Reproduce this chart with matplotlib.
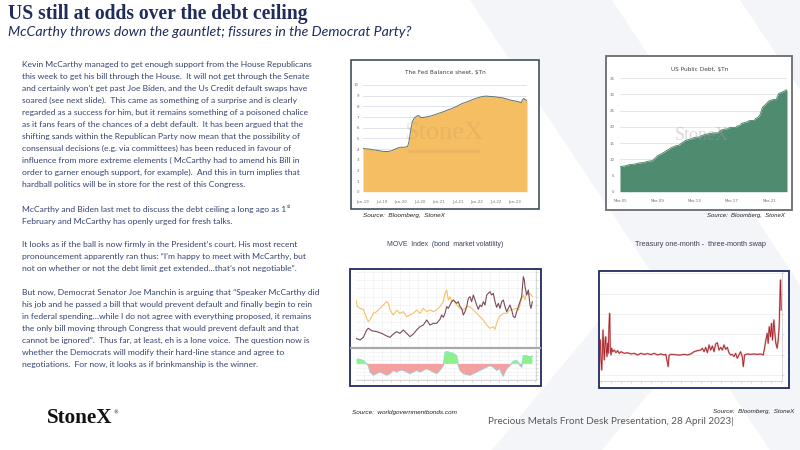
import matplotlib
matplotlib.use('Agg')
import matplotlib.pyplot as plt
from matplotlib.patches import Rectangle, Polygon
from matplotlib.ticker import MultipleLocator

# ---------------- data ----------------
fed_months = [0, 1, 2, 3, 4, 5, 6, 7, 8, 9, 10, 11, 12, 13, 14.1, 14.5, 14.8, 15.2, 15.6, 16.2, 17, 17.6,
              18.2, 19, 20, 21, 22, 23, 24, 25, 26, 27, 28, 29, 30, 31, 32, 33, 34, 35, 36, 37, 38, 39,
              40, 41, 42, 43, 44, 45, 46, 47, 48, 49, 50, 50.4, 50.8, 51.2, 51.8]
fed_values = [4.06, 4.02, 4.00, 3.93, 3.90, 3.85, 3.79, 3.77, 3.76, 3.84, 3.97, 4.10, 4.17, 4.16, 4.24,
              4.66, 5.25, 6.00, 6.57, 6.90, 7.09, 7.14, 6.96, 6.95, 7.01, 7.07, 7.15, 7.25, 7.36, 7.45,
              7.56, 7.69, 7.78, 7.91, 8.06, 8.22, 8.33, 8.44, 8.56, 8.68, 8.78, 8.87, 8.93, 8.96, 8.93,
              8.91, 8.88, 8.83, 8.80, 8.73, 8.64, 8.55, 8.51, 8.44, 8.34, 8.63, 8.73, 8.63, 8.56]
fed_tick_pos = [0, 6, 12, 18, 24, 30, 36, 42, 48]
fed_tick_labels = ["Jan-19", "Jul-19", "Jan-20", "Jul-20", "Jan-21", "Jul-21", "Jan-22", "Jul-22", "Jan-23"]

debt_years = [0, 0.5, 1.0, 1.5, 2.0, 2.5, 3.0, 3.5, 3.6, 3.9, 4.0, 4.5, 5.0, 5.5, 6.0, 6.3, 6.5, 7.0, 7.5,
              8.0, 8.5, 8.6, 9.0, 9.5, 10.0, 10.5, 10.7, 11.0, 11.5, 11.8, 12.0, 12.4, 12.5, 12.9, 13.0,
              13.5, 13.9, 14.0, 14.4, 14.5, 14.8, 15.0, 15.15, 15.25, 15.5, 15.75, 16.0, 16.4, 16.75,
              16.8, 16.9, 17.0, 17.5, 17.8, 17.9]
debt_values = [7.78, 7.93, 8.35, 8.5, 8.85, 9.0, 9.4, 9.6, 10.0, 10.7, 11.1, 11.8, 12.7, 13.6, 14.2, 14.3,
               14.8, 15.8, 16.2, 16.77, 16.9, 17.1, 17.6, 17.9, 18.15, 18.15, 18.8, 19.2, 19.4, 19.85,
               19.85, 19.85, 20.2, 20.5, 21.1, 21.4, 21.98, 22.0, 22.0, 22.5, 23.0, 23.7, 25.0, 26.0,
               26.7, 27.4, 28.1, 28.43, 28.43, 28.9, 29.6, 30.3, 30.9, 31.38, 31.46]
debt_tick_pos = [0, 4, 8, 12, 16]
debt_tick_labels = ["Mar-05", "Mar-09", "Mar-13", "Mar-17", "Mar-21"]

move_t = [138, 150, 160, 170, 175, 185, 200, 215, 230, 240, 250, 260, 270, 280, 290, 300, 310, 320, 330,
          340, 350, 360, 370, 380, 390, 395, 400, 405, 410, 415, 420, 425, 430, 440, 445, 450, 455, 460,
          465, 470, 475, 480, 485, 490, 495, 500, 505, 510, 515, 520, 525, 530, 535, 540, 545, 550, 555,
          560, 565, 570, 575, 580, 585, 590, 595, 600, 605, 610, 615, 620, 625, 630, 635, 640, 643, 645,
          650, 655, 660, 663, 667]
move_values = [75, 70, 78, 100, 105, 98, 95, 90, 82, 78, 88, 95, 90, 100, 90, 80, 88, 100, 110, 115, 130,
               115, 120, 120, 132, 145, 138, 150, 170, 165, 175, 185, 190, 180, 185, 170, 165, 145, 155,
               170, 195, 200, 185, 205, 190, 175, 162, 175, 170, 185, 175, 205, 210, 215, 205, 210, 185,
               168, 180, 165, 185, 190, 170, 155, 165, 175, 160, 140, 137, 155, 170, 185, 200, 260, 250,
               230, 205, 220, 175, 165, 185]
other_t = [138, 142, 150, 160, 170, 175, 180, 190, 200, 210, 220, 230, 235, 240, 250, 260, 270, 280, 290,
           300, 310, 320, 330, 340, 350, 360, 370, 380, 390, 400, 405, 410, 415, 420, 425, 430, 440, 450,
           460, 470, 480, 490, 500, 510, 520, 530, 540, 550, 555, 560, 565, 570, 580, 590, 600, 610, 620,
           625, 630, 635, 640, 645, 650, 655, 660, 667]
other_values = [190, 170, 165, 162, 135, 125, 130, 150, 155, 165, 175, 185, 180, 160, 145, 160, 150, 155,
                140, 145, 150, 160, 150, 165, 155, 160, 155, 160, 170, 185, 210, 220, 190, 200, 185, 190,
                175, 165, 160, 170, 170, 160, 150, 140, 130, 115, 105, 110, 102, 120, 135, 142, 150, 150,
                160, 162, 165, 160, 175, 195, 205, 190, 215, 205, 210, 200]
spread_t = [140, 145, 160, 170, 175, 180, 190, 200, 210, 220, 230, 240, 250, 260, 270, 280, 290, 300, 310,
            320, 330, 340, 350, 360, 370, 380, 390, 400, 405, 410, 420, 430, 440, 445, 450, 460, 470, 480,
            490, 500, 510, 520, 530, 540, 550, 560, 570, 575, 580, 585, 590, 600, 605, 610, 620, 625, 630,
            635, 640, 650, 660, 667]
spread_values = [12, 15, 10, 0, -5, -25, -35, -30, -25, -30, -35, -30, -20, -25, -20, -20, -25, -30, -25,
                 -20, -25, -20, -15, -20, -25, -30, -20, -5, 35, 38, 35, 32, 25, -5, -20, -30, -33, -35,
                 -30, -25, -20, -15, -10, -5, -10, -20, -15, -30, -38, -25, -15, -5, 2, 8, 10, 5, -5, -10,
                 25, 25, 22, 24]

swap_t = [58, 60, 62, 64, 66, 68, 70, 72, 74, 76, 78, 80, 82, 84, 86, 88, 90, 92, 95, 100, 105, 110, 115,
          120, 130, 140, 150, 160, 170, 180, 190, 200, 210, 220, 230, 240, 250, 255, 262, 265, 270, 280,
          290, 300, 310, 320, 330, 340, 350, 360, 365, 370, 375, 380, 385, 390, 395, 400, 405, 410, 415,
          420, 425, 430, 435, 440, 445, 450, 455, 460, 465, 470, 475, 480, 485, 488, 492, 500, 510, 520,
          530, 540, 548, 552, 556, 560, 563, 566, 570, 573, 576, 580, 583, 586, 590, 593, 596, 598, 600, 602]
swap_values = [7.3, -2.4, -7.3, 0.8, 12.2, 4.1, -2.4, 5.7, 8.9, 2.4, -0.8, 5.7, 0.8, 13.8, 20.3, 2.4, 0.0,
               3.3, 1.6, 2.4, 1.1, 2.1, 0.8, 1.6, 0.8, 1.1, 0.5, 0.8, 0.0, 0.8, 0.3, 0.7, 0.2, 0.8, 0.0,
               0.5, 0.0, 0.3, -5.7, 0.0, 0.3, 0.2, 0.0, 0.0, 0.3, 0.0, 0.5, 1.6, 2.1, 2.4, 3.3, 1.6, 3.7,
               1.1, 4.9, 2.4, 4.4, 1.6, 5.4, 6.0, 2.4, 3.7, 2.4, 4.9, 2.8, 3.7, 1.1, 0.0, 0.3, -0.8, 0.8,
               -1.6, 0.0, 1.6, -0.8, -5.7, 0.0, 0.5, 0.3, 0.5, 0.3, 0.5, 0.0, 3.3, 7.3, 10.6, 5.7, 13.8,
               8.9, 15.4, 7.3, 17.1, 10.6, 5.7, 3.3, 7.3, 13.8, 26.8, 36.6, 22.0]

title = "US still at odds over the debt ceiling"
subtitle = "McCarthy throws down the gauntlet; fissures in the Democrat Party?"
paragraphs = [
    ["Kevin McCarthy managed to get enough support from the House Republicans",
     "this week to get his bill through the House.  It will not get through the Senate",
     "and certainly won\u2019t get past Joe Biden, and the Us Credit default swaps have",
     "soared (see next slide).  This came as something of a surprise and is clearly",
     "regarded as a success for him, but it remains something of a poisoned chalice",
     "as it fans fears of the chances of a debt default.  It has been argued that the",
     "shifting sands within the Republican Party now mean that the possibility of",
     "consensual decisions (e.g. via committees) has been reduced in favour of",
     "influence from more extreme elements ( McCarthy had to amend his Bill in",
     "order to garner enough support, for example).  And this in turn implies that",
     "hardball politics will be in store for the rest of this Congress."],
    ["McCarthy and Biden last met to discuss the debt ceiling a long ago as 1",
     "February and McCarthy has openly urged for fresh talks."],
    ["It looks as if the ball is now firmly in the President\u2019s court. His most recent",
     "pronouncement apparently ran thus: \u201cI\u2019m happy to meet with McCarthy, but",
     "not on whether or not the debt limit get extended\u2026that\u2019s not negotiable\u201d."],
    ["But now, Democrat Senator Joe Manchin is arguing that \u201cSpeaker McCarthy did",
     "his job and he passed a bill that would prevent default and finally begin to rein",
     "in federal spending\u2026while I do not agree with everything proposed, it remains",
     "the only bill moving through Congress that would prevent default and that",
     "cannot be ignored\u201d.  Thus far, at least, eh is a lone voice.  The question now is",
     "whether the Democrats will modify their hard-line stance and agree to",
     "negotiations.  For now, it looks as if brinkmanship is the winner."],
]

# ---------------- figure ----------------
W, H = 800, 450
fig = plt.figure(figsize=(8, 4.5), dpi=100)
fig.patch.set_facecolor('white')
renderer = fig.canvas.get_renderer()

NAVY = '#1F2C5C'
BODY = '#34426F'
NARROW = ['Liberation Sans Narrow', 'DejaVu Sans']


def fx(x):
    return x / W


def fy(y):
    return 1 - y / H


def ax_px(x0, y0, x1, y1):
    return fig.add_axes([fx(x0), fy(y1), (x1 - x0) / W, (y1 - y0) / H])


def ftext(x, y, s, width=None, size=8, **kw):
    kw.setdefault('ha', 'left')
    kw.setdefault('va', 'center')
    t = fig.text(fx(x), fy(y), s, fontsize=size, **kw)
    if width:
        bb = t.get_window_extent(renderer)
        t.set_fontsize(size * width / bb.width)
    return t


def frame(x0, y0, x1, y1, color, lw):
    fig.patches.append(Rectangle((fx(x0), fy(y1)), (x1 - x0) / W, (y1 - y0) / H,
                                 transform=fig.transFigure, facecolor='white',
                                 edgecolor=color, lw=lw, zorder=-1))


# background watermark strokes
for pts in [[(470, 0), (612, 0), (800, 285), (800, 450), (770, 450)],
            [(492, 450), (602, 450), (735, 290), (625, 290)],
            [(740, 0), (800, 0), (800, 90)]]:
    fig.patches.append(Polygon([(fx(a), fy(b)) for a, b in pts], closed=True,
                               transform=fig.transFigure, facecolor='#F4F5F8',
                               edgecolor='none', zorder=-2))

# ---------------- titles & body text ----------------
ftext(8, 13.5, title, width=300, size=13, family='Liberation Serif', weight='bold', color=NAVY)
ftext(8, 32.5, subtitle, width=403, size=10, family='Lato', style='italic', color=NAVY)

probe = fig.text(0, 0, paragraphs[0][0], fontsize=7, family='Lato')
body_size = 7 * 289 / probe.get_window_extent(renderer).width
probe.remove()

starts = [65.0, 209.6, 244.5, 292.3]
spacing = 11.97
for para, y0 in zip(paragraphs, starts):
    for i, line in enumerate(para):
        t = ftext(22.5, y0 + i * spacing, line, size=body_size, family='Lato', color=BODY)
        if line.endswith("as 1"):
            w = t.get_window_extent(renderer).width
            ftext(22.5 + w + 0.5, y0 + i * spacing - 2.6, "st", size=body_size * 0.62,
                  family='Lato', color=BODY)

# logo & footer
ftext(47, 418, "StoneX", width=66, size=14, family='Liberation Serif', weight='bold', color='#111111')
ftext(113.5, 412.5, "\u00ae", size=3.5, family='DejaVu Sans', color='#111111')
ftext(488, 422, "Precious Metals Front Desk Presentation, 28 April 2023|", width=245, size=6,
      family='Lato', color='#595959')

# ---------------- chart 1 : Fed balance sheet ----------------
frame(350.5, 60.5, 539, 209, '#3E5258', 1.2)
ftext(445, 72.5, "The Fed Balance sheet, \\$Tn", width=80, size=6, family=NARROW, color='#404040', ha='center')
ax1 = ax_px(363, 85, 527, 191.7)
ax1.fill_between(fed_months, fed_values, 0, color='#F6BE63', lw=0, zorder=2)
ax1.plot(fed_months, fed_values, color='#5E7470', lw=0.7, zorder=3)
ax1.set_xlim(0, 51.8)
ax1.set_ylim(0, 10)
ax1.set_yticks(range(0, 11))
ax1.set_xticks(fed_tick_pos)
ax1.set_xticklabels(fed_tick_labels)
ax1.grid(axis='y', color='#DADDEA', lw=0.6, zorder=0)
ax1.set_axisbelow(True)
for s in ax1.spines.values():
    s.set_visible(False)
ax1.tick_params(length=0, labelsize=2.9, labelcolor='#707070', pad=3)
ax1.tick_params(axis='x', pad=6)
for lab in ax1.get_xticklabels() + ax1.get_yticklabels():
    lab.set_family(NARROW)
ax1.text(0.49, 0.55, "StoneX", transform=ax1.transAxes, ha='center', va='center', fontsize=19,
         family='Liberation Serif', color='#9A8060', alpha=0.16, zorder=4)
ax1.plot([0.28, 0.70], [0.38, 0.38], transform=ax1.transAxes, color='#B08A50', alpha=0.15, lw=2.5, zorder=4)
ftext(363, 215, "Source:  Bloomberg,  StoneX", width=84, size=5, family='Liberation Sans',
      style='italic', color='#222222')

# ---------------- chart 2 : US public debt ----------------
frame(605.5, 56, 792, 210, '#6A6A70', 1.3)
ftext(700, 69, "US Public Debt, \\$Tn", width=58, size=6, family=NARROW, color='#404040', ha='center')
ax2 = ax_px(620, 78.3, 787, 191.7)
ax2.fill_between(debt_years, debt_values, 0, color='#4F8B6E', lw=0, zorder=2)
ax2.plot(debt_years, debt_values, color='#45805F', lw=0.6, zorder=3)
ax2.set_xlim(0, 17.9)
ax2.set_ylim(0, 35)
ax2.set_yticks(range(0, 36, 5))
ax2.set_xticks(debt_tick_pos)
ax2.set_xticklabels(debt_tick_labels)
ax2.grid(axis='y', color='#E2E2E2', lw=0.6, zorder=0)
ax2.set_axisbelow(True)
for s in ax2.spines.values():
    s.set_visible(False)
ax2.tick_params(length=0, labelsize=2.9, labelcolor='#707070', pad=4)
ax2.tick_params(axis='x', pad=5)
for lab in ax2.get_xticklabels() + ax2.get_yticklabels():
    lab.set_family(NARROW)
ax2.text(0.49, 0.50, "StoneX", transform=ax2.transAxes, ha='center', va='center', fontsize=13,
         family='Liberation Serif', color='#A0A0A0', alpha=0.4, zorder=4)
ftext(785, 215, "Source:  Bloomberg,  StoneX", width=79, size=5, family='Liberation Sans',
      style='italic', color='#222222', ha='right')

# ---------------- chart 3 : MOVE index ----------------
ftext(445, 245, "MOVE  Index  (bond  market volatility)", width=118, size=5, family='Liberation Sans',
      color='#3A3F5C', ha='center')
frame(350, 268.5, 540.5, 386, '#1F2A60', 1.3)
ax3 = ax_px(356, 270, 536, 347)
ax3.plot(other_t, other_values, color='#F6C064', lw=0.8, zorder=3)
ax3.plot(move_t, move_values, color='#7A4B57', lw=0.8, zorder=4)
ax3.set_xlim(138, 678)
ax3.set_ylim(49, 280)
ax3.xaxis.set_major_locator(MultipleLocator(27))
ax3.yaxis.set_major_locator(MultipleLocator(25))
ax3.grid(color='#EEEEEE', lw=0.4)
ax3.set_axisbelow(True)
ax3.tick_params(labelleft=False, labelbottom=False, left=False, right=True, bottom=False,
                length=1.5, width=0.4, color='#BBBBBB')
for k, s in ax3.spines.items():
    s.set_visible(k == 'right')
    s.set_color('#C8C8C8')
    s.set_lw(0.5)
fig.add_artist(plt.Line2D([fx(351), fx(540)], [fy(348), fy(348)], transform=fig.transFigure,
                          color='#A8A8A8', lw=1.6))
ax3b = ax_px(356, 350, 536, 380)
ax3b.plot(spread_t, spread_values, color='#8FE3E3', lw=1.0, zorder=2)
ax3b.fill_between(spread_t, spread_values, 0, where=[v >= 0 for v in spread_values], interpolate=True,
                  color='#8DF08D', lw=0, zorder=3)
ax3b.fill_between(spread_t, spread_values, 0, where=[v <= 0 for v in spread_values], interpolate=True,
                  color='#F5A0A0', lw=0, zorder=3)
ax3b.set_xlim(138, 678)
ax3b.set_ylim(-50, 43)
ax3b.xaxis.set_major_locator(MultipleLocator(27))
ax3b.yaxis.set_major_locator(MultipleLocator(12))
ax3b.grid(color='#EEEEEE', lw=0.4)
ax3b.set_axisbelow(True)
ax3b.tick_params(labelleft=False, labelbottom=False, left=False, right=True, bottom=True,
                 length=1.5, width=0.4, color='#BBBBBB')
for k, s in ax3b.spines.items():
    s.set_visible(k in ('right', 'bottom'))
    s.set_color('#C8C8C8')
    s.set_lw(0.5)
ftext(352, 412.3, "Source:  worldgovernmentbonds.com", width=106, size=5, family='Liberation Sans',
      style='italic', color='#222222')

# ---------------- chart 4 : Treasury swap ----------------
ftext(700, 245, "Treasury one-month -  three-month swap", width=135, size=5, family='Liberation Sans',
      color='#3A3F5C', ha='center')
frame(598.5, 271, 788.5, 387.5, '#1F2A60', 1.3)
ax4 = ax_px(600, 272, 781.5, 381)
ax4.plot(swap_t, swap_values, color='#E9A8A8', lw=1.3, zorder=2)
ax4.plot(swap_t, swap_values, color='#A3262C', lw=0.6, zorder=3)
ax4.set_xlim(57, 603)
ax4.set_ylim(-12.7, 40.5)
ax4.set_yticks([-10, 0, 10, 20, 30, 40])
ax4.xaxis.set_major_locator(MultipleLocator(30))
ax4.grid(axis='y', color='#EBEBEB', lw=0.5)
ax4.set_axisbelow(True)
ax4.tick_params(labelleft=False, labelbottom=False, left=False, right=True, bottom=True,
                length=1.5, width=0.4, color='#BBBBBB')
for k, s in ax4.spines.items():
    s.set_visible(k in ('right', 'bottom'))
    s.set_color('#C8C8C8')
    s.set_lw(0.5)
ftext(794, 411.7, "Source:  Bloomberg,  StoneX", width=82, size=5, family='Liberation Sans',
      style='italic', color='#222222', ha='right')

fig.savefig('out.png', dpi=100)
